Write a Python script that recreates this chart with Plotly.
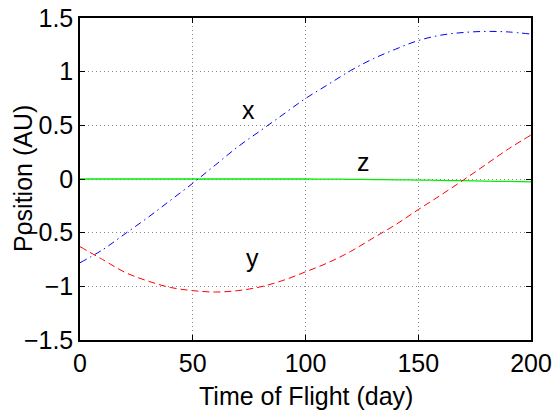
import plotly.graph_objects as go

# Time of flight (days)
t_days = [0, 10, 20, 30, 40, 50, 60, 70, 80, 90, 100,
          110, 120, 130, 140, 150, 160, 170, 180, 190, 200]

# Position components (AU)
x_pos = [-0.78, -0.66, -0.51, -0.36, -0.20, -0.04, 0.13, 0.30, 0.45, 0.60, 0.75,
         0.88, 1.01, 1.12, 1.21, 1.29, 1.34, 1.365, 1.375, 1.37, 1.35]
y_pos = [-0.63, -0.75, -0.87, -0.95, -1.01, -1.04, -1.053, -1.04, -1.005, -0.945, -0.865,
         -0.78, -0.675, -0.55, -0.425, -0.285, -0.15, -0.01, 0.135, 0.28, 0.41]
z_pos = [0.0, 0.0, 0.0, 0.0, 0.0, 0.0, 0.0, 0.0, 0.0, 0.0, 0.0,
         -0.001, -0.003, -0.005, -0.008, -0.010, -0.013, -0.016, -0.020, -0.023, -0.027]

# Curve labels (text, t, value)
labels = [("x", 74.5, 0.64), ("y", 76.3, -0.74), ("z", 125.5, 0.16)]

x_ticks = [0, 50, 100, 150, 200]
y_ticks = [-1.5, -1, -0.5, 0, 0.5, 1, 1.5]
y_tick_text = ["\u22121.5", "\u22121", "\u22120.5", "0", "0.5", "1", "1.5"]

FONT = "Liberation Sans, Arial, Helvetica, sans-serif"
FS = 25

fig = go.Figure()
fig.add_trace(go.Scatter(x=t_days, y=z_pos, mode="lines", line_shape="spline",
                         line=dict(color="#00ee00", width=1.3), showlegend=False))
fig.add_trace(go.Scatter(x=t_days, y=x_pos, mode="lines", line_shape="spline",
                         line=dict(color="#0000ff", width=1, dash="7px,4px,1.5px,4px"),
                         showlegend=False))
fig.add_trace(go.Scatter(x=t_days, y=y_pos, mode="lines", line_shape="spline",
                         line=dict(color="#ff0000", width=1, dash="7px,4px"),
                         showlegend=False))

for txt, tx, ty in labels:
    fig.add_annotation(x=tx, y=ty, text=txt, showarrow=False,
                       font=dict(family=FONT, size=FS, color="black"))

axis_common = dict(
    showline=True, linecolor="black", linewidth=1.5, mirror="ticks",
    ticks="inside", ticklen=5, tickwidth=1, tickcolor="black",
    showgrid=True, gridcolor="#888888", griddash="1px,3px", gridwidth=1,
    zeroline=False, automargin=False,
    tickfont=dict(family=FONT, size=FS, color="black"),
)

fig.update_xaxes(range=[0, 200], tickvals=x_ticks,
                 ticktext=[str(v) for v in x_ticks], **axis_common)
fig.update_yaxes(range=[-1.5, 1.5], tickvals=y_ticks, ticktext=y_tick_text,
                 **axis_common)

fig.add_annotation(xref="paper", yref="paper", x=0.5, y=0, yshift=-56,
                   xanchor="center", yanchor="middle", showarrow=False,
                   text="Time of Flight (day)",
                   font=dict(family=FONT, size=FS, color="black"))
fig.add_annotation(xref="paper", yref="paper", x=0, y=0.5, xshift=-57,
                   xanchor="center", yanchor="middle", showarrow=False, textangle=-90,
                   text="Position (AU)",
                   font=dict(family=FONT, size=FS, color="black"))

fig.update_layout(
    width=557, height=419,
    margin=dict(l=80, r=26, t=18, b=79, autoexpand=False),
    paper_bgcolor="white", plot_bgcolor="white",
    font=dict(family=FONT, size=FS, color="black"),
)

fig.write_html("out.html")
